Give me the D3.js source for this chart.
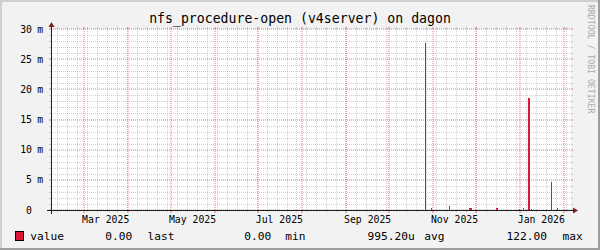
<!DOCTYPE html>
<html>
<head>
<meta charset="utf-8">
<script src="https://cdn.jsdelivr.net/npm/d3@7"></script>
<style>
  html, body { margin: 0; padding: 0; background: #f2f2f2; }
  svg { display: block; }
  text { font-family: "DejaVu Sans Mono", monospace; fill: #000; }
</style>
</head>
<body>
<svg id="chart" width="600" height="250"></svg>
<script>
// ---- data ----
const title = 'nfs_procedure-open (v4server) on dagon'
const timeStart = '2025-02-05T14:00:00Z'
const timeEnd = '2026-02-05T20:00:00Z'
const yMax = 0.030

// spikes of the "value" series (start, end, value)
const spikeStart = [
  '2025-10-26T00:00:00Z', '2025-10-30T05:00:00Z', '2025-11-12T05:00:00Z',
  '2025-11-25T22:00:00Z', '2025-12-15T12:00:00Z', '2025-12-31T00:00:00Z',
  '2026-01-03T05:00:00Z', '2026-01-06T22:00:00Z', '2026-01-08T14:00:00Z',
  '2026-01-22T22:00:00Z', '2026-01-27T07:00:00Z'
]
const spikeEnd = [
  '2025-10-26T17:00:00Z', '2025-10-30T22:00:00Z', '2025-11-13T02:00:00Z',
  '2025-11-28T05:00:00Z', '2025-12-16T05:00:00Z', '2025-12-31T17:00:00Z',
  '2026-01-03T22:00:00Z', '2026-01-08T02:00:00Z', '2026-01-09T05:00:00Z',
  '2026-01-23T14:00:00Z', '2026-01-28T00:00:00Z'
]
const spikeValues = [
  0.0276, 0.0003, 0.0006,
  0.0003, 0.0004, 0.0002,
  0.0004, 0.0186, 0.0002,
  0.0046, 0.00035
]

const yMajorTicks = [0, 0.005, 0.010, 0.015, 0.020, 0.025, 0.030]
const yTickLabels = ['0', '5', '10', '15', '20', '25', '30']
const xLabelMonths = ['2025-03-01', '2025-05-01', '2025-07-01', '2025-09-01', '2025-11-01', '2026-01-01']
const xLabelTexts = ['Mar 2025', 'May 2025', 'Jul 2025', 'Sep 2025', 'Nov 2025', 'Jan 2026']

const seriesName = 'value'
const legendValues = ['0.00', '0.00', '995.20u', '122.00']
const legendNames = ['last', 'min', 'avg', 'max']
const watermark = 'RRDTOOL / TOBI OETIKER'

// ---- layout ----
const W = 600, H = 250
const xLeft = 51, xRight = 571, yTop = 29, yBottom = 210
const legendValueX = [105.3, 244.3, 367.6, 506.6]
const legendNameX = [147.6, 285.3, 424.3, 562.6]

const colors = {
  back: '#f2f2f2',
  canvas: '#ffffff',
  shadeA: '#cfcfcf',
  shadeB: '#9e9e9e',
  grid: 'rgba(143,143,143,0.42)',
  mgrid: 'rgba(222,79,79,0.75)',
  axis: '#1f1f1f',
  arrow: '#801f1f',
  series: '#dc1436'
}

const svg = d3.select('#chart')

const x = d3.scaleUtc()
  .domain([new Date(timeStart), new Date(timeEnd)])
  .range([xLeft, xRight])
const y = d3.scaleLinear()
  .domain([0, yMax])
  .range([yBottom, yTop])

// background + 3d frame
svg.append('rect').attr('width', W).attr('height', H).attr('fill', colors.back)
svg.append('path')
  .attr('d', `M0,0H${W}V2H2V${H}H0Z`)
  .attr('fill', colors.shadeA)
svg.append('path')
  .attr('d', `M${W},${H}H0V${H - 2}H${W - 2}V0H${W}Z`)
  .attr('fill', colors.shadeB)

// canvas
svg.append('rect')
  .attr('x', xLeft).attr('y', yTop)
  .attr('width', xRight - xLeft).attr('height', yBottom - yTop)
  .attr('fill', colors.canvas)

const minorGrid = svg.append('g').attr('shape-rendering', 'crispEdges')
// major lines sit on whole pixels, so they blur over two columns like rrdtool's
const majorGrid = svg.append('g')

// horizontal grid
const yMinor = d3.range(0, Math.round(yMax * 1000) + 1).map(d => d / 1000)
  .filter(v => !yMajorTicks.some(m => Math.abs(m - v) < 1e-9))

function hLine(g, v, color, off) {
  const yy = Math.round(y(v)) + off
  g.append('line')
    .attr('x1', xLeft).attr('x2', xRight).attr('y1', yy).attr('y2', yy)
    .attr('stroke', color).attr('stroke-dasharray', '1,1')
  g.append('line')
    .attr('x1', xLeft - 2).attr('x2', xLeft).attr('y1', yy).attr('y2', yy)
    .attr('stroke', color)
  g.append('line')
    .attr('x1', xRight).attr('x2', xRight + 2).attr('y1', yy).attr('y2', yy)
    .attr('stroke', color)
}

// vertical grid
const monthStarts = d3.utcMonth.range(x.domain()[0], x.domain()[1])
const weekStarts = d3.utcMonday.range(x.domain()[0], x.domain()[1])

function vLine(g, t, color, tick, off) {
  const xx = Math.round(x(t)) + off
  g.append('line')
    .attr('x1', xx).attr('x2', xx).attr('y1', yTop).attr('y2', yBottom)
    .attr('stroke', color).attr('stroke-dasharray', '1,1')
  g.append('line')
    .attr('x1', xx).attr('x2', xx).attr('y1', yBottom).attr('y2', yBottom + tick)
    .attr('stroke', color)
  g.append('line')
    .attr('x1', xx).attr('x2', xx).attr('y1', yTop - 2).attr('y2', yTop)
    .attr('stroke', color)
}
yMinor.forEach(v => hLine(minorGrid, v, colors.grid, 0.5))
weekStarts.forEach(t => vLine(minorGrid, t, colors.grid, 2, 0.5))
yMajorTicks.forEach(v => hLine(majorGrid, v, colors.mgrid, 0))
monthStarts.forEach(t => vLine(majorGrid, t, colors.mgrid, 3, 0))

// series
svg.append('g')
  .attr('shape-rendering', 'crispEdges')
  .selectAll('rect')
  .data(spikeValues.map((v, i) => ({ v, s: new Date(spikeStart[i]), e: new Date(spikeEnd[i]) })))
  .join('rect')
  .attr('x', d => Math.round(x(d.s)))
  .attr('width', d => Math.max(1, Math.round(x(d.e)) - Math.round(x(d.s))))
  .attr('y', d => Math.round(y(d.v)))
  .attr('height', d => yBottom - Math.round(y(d.v)) + 1)
  .attr('fill', colors.series)

// axes
const axes = svg.append('g').attr('shape-rendering', 'crispEdges')
axes.append('line')
  .attr('x1', xLeft - 4).attr('x2', xRight + 4)
  .attr('y1', yBottom + 0.5).attr('y2', yBottom + 0.5)
  .attr('stroke', colors.axis)
axes.append('line')
  .attr('x1', xLeft + 0.5).attr('x2', xLeft + 0.5)
  .attr('y1', yBottom + 4).attr('y2', yTop - 4)
  .attr('stroke', colors.axis)
svg.append('path')
  .attr('d', `M${xRight + 2},${yBottom - 3 + 0.5}L${xRight + 2},${yBottom + 3 + 0.5}L${xRight + 7},${yBottom + 0.5}Z`)
  .attr('fill', colors.arrow)
svg.append('path')
  .attr('d', `M${xLeft - 3 + 0.5},${yTop - 2}L${xLeft + 3 + 0.5},${yTop - 2}L${xLeft + 0.5},${yTop - 7}Z`)
  .attr('fill', colors.arrow)

// y labels
const yLab = svg.append('g').style('font-size', '9.8px')
yMajorTicks.forEach((v, i) => {
  yLab.append('text')
    .attr('x', 32).attr('y', y(v) + 3.5)
    .attr('text-anchor', 'end')
    .text(yTickLabels[i])
  if (v !== 0) {
    yLab.append('text')
      .attr('x', 37.2).attr('y', y(v) + 3.5)
      .text('m')
  }
})

// x labels (centred in the middle of the month)
const xLab = svg.append('g').style('font-size', '9.8px')
xLabelMonths.forEach((m, i) => {
  const t = d3.utcDay.offset(new Date(m + 'T00:00:00Z'), 15)
  xLab.append('text')
    .attr('x', x(t)).attr('y', yBottom + 13)
    .attr('text-anchor', 'middle')
    .text(xLabelTexts[i])
})

// title
svg.append('text')
  .attr('x', W / 2).attr('y', 22.5)
  .attr('text-anchor', 'middle')
  .style('font-size', '13.2px')
  .text(title)

// watermark
svg.append('text')
  .attr('transform', `translate(587.5,5) rotate(90)`)
  .style('font-size', '8.2px')
  .style('fill', '#ababab')
  .text(watermark)

// legend
svg.append('rect')
  .attr('x', 15.5).attr('y', 231.5).attr('width', 8).attr('height', 9)
  .attr('fill', colors.series).attr('stroke', '#000')
  .attr('shape-rendering', 'crispEdges')
const leg = svg.append('g').style('font-size', '11.2px')
leg.append('text').attr('x', 30.2).attr('y', 240).text(seriesName)
legendValues.forEach((v, i) => {
  leg.append('text').attr('x', legendValueX[i]).attr('y', 240).text(v)
  leg.append('text').attr('x', legendNameX[i]).attr('y', 240).text(legendNames[i])
})
</script>
</body>
</html>
